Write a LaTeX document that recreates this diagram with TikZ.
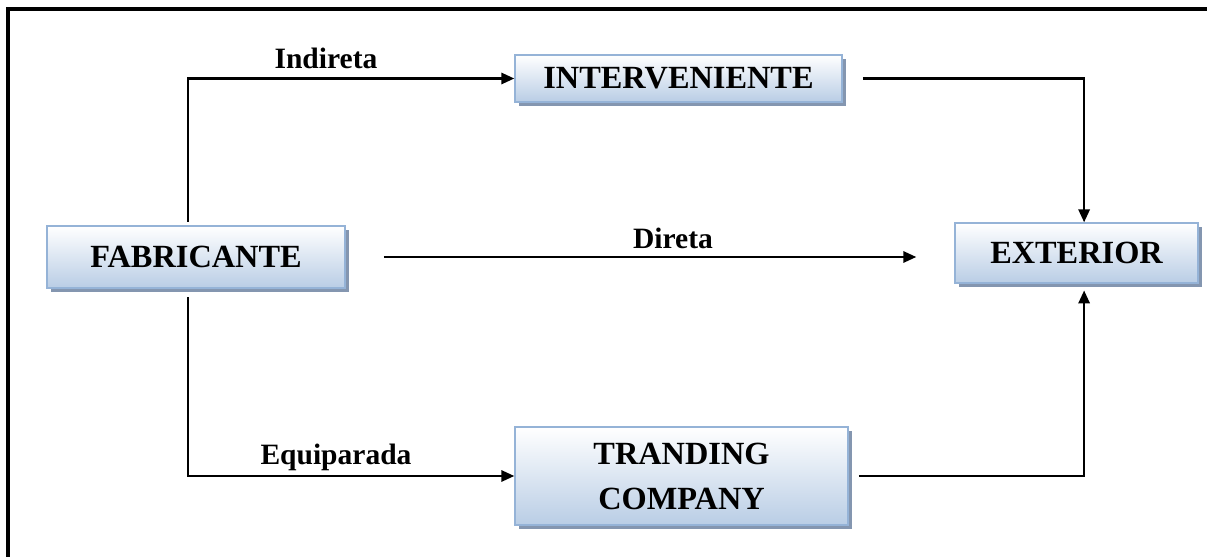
\documentclass[tikz,border=0pt]{standalone}
\usepackage{fontspec}
\setmainfont{Liberation Serif}
\usepackage{tikz}
\usetikzlibrary{positioning}
\usetikzlibrary{arrows.meta}
\usetikzlibrary{shadows}
\definecolor{boxblue}{RGB}{185,205,229}
\definecolor{boxedge}{RGB}{149,179,215}
\definecolor{boxshadow}{RGB}{132,150,176}

\begin{document}
\begin{tikzpicture}[x=0.025cm, y=-0.025cm,
    caixa/.style={draw=boxedge, line width=1pt, top color=white, bottom color=boxblue,
        drop shadow={shadow xshift=0.1cm, shadow yshift=-0.1cm, fill=boxshadow, opacity=1},
        inner sep=0pt, align=center, font=\fontsize{23}{32}\selectfont\bfseries},
    seta/.style={line width=1.5pt, -{Triangle[length=0.32cm, width=0.28cm]}},
    rotulo/.style={font=\fontsize{21}{24}\selectfont\bfseries}]
    \useasboundingbox (0,0) rectangle (1207,557);

    % moldura
    \draw[line width=2.2pt] (8,557) -- (8,9) -- (1207,9);

    \node [caixa, minimum width=7.45cm, minimum height=1.55cm] (fab) at (196,257) {FABRICANTE};
    \node [caixa, minimum width=8.175cm, minimum height=1.175cm] (int) at (678.5,78.5) {INTERVENIENTE};
    \node [caixa, minimum width=6.075cm, minimum height=1.5cm] (ext) at (1076.5,253) {EXTERIOR};
    \node [caixa, minimum width=8.325cm, minimum height=2.45cm] (tra) at (681.5,476) {TRANDING\\COMPANY};

    \coordinate (fabcima) at (188,222);
    \coordinate (fabbaixo) at (188,297);

    \draw[seta] (fabcima) |- (int.west);
    \draw[seta] ([xshift=0.5cm]int.east) -| ([xshift=0.19cm]ext.north);
    \draw[seta] ([xshift=0.95cm]fab.east) -- ([xshift=-0.95cm]fab.east -| ext.west);
    \draw[seta] (fabbaixo) |- (tra.west);
    \draw[seta] ([xshift=0.25cm]tra.east) -| ([xshift=0.19cm, yshift=-0.17cm]ext.south);

    \node [rotulo] (lind) at (326,58) {Indireta};
    \node [rotulo] (ldir) at (673,238) {Direta};
    \node [rotulo] (lequ) at (336,457) {Equiparada};
\end{tikzpicture}
\end{document}
